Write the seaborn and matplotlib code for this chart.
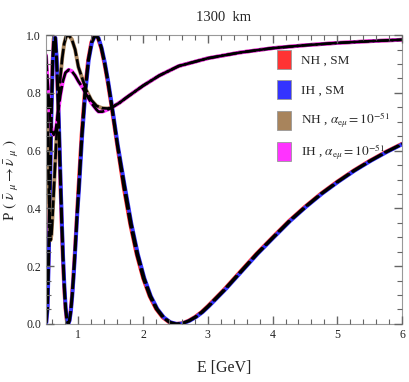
import matplotlib
matplotlib.use("Agg")
import matplotlib.pyplot as plt
import matplotlib.patches as mpatches
import seaborn as sns
from matplotlib.ticker import MultipleLocator, FormatStrFormatter

# survival probability, standard case
e_sm = [0.50, 0.52, 0.54, 0.56, 0.58, 0.60, 0.62, 0.64, 0.66, 0.68, 0.70, 0.72,
        0.74, 0.76, 0.78, 0.80, 0.82, 0.84, 0.86, 0.88, 0.90, 0.92, 0.94, 0.96,
        0.98, 1.00, 1.05, 1.10, 1.15, 1.20, 1.25, 1.30, 1.35, 1.40, 1.45, 1.50,
        1.60, 1.70, 1.80, 1.90, 2.00, 2.10, 2.20, 2.30, 2.40, 2.50, 2.60, 2.70,
        2.80, 2.90, 3.00, 3.25, 3.50, 3.75, 4.00, 4.25, 4.50, 4.75, 5.00, 5.25,
        5.50, 5.75, 6.00]
p_nh_sm = [0.004, 0.056, 0.248, 0.497, 0.731, 0.903, 0.989, 0.991, 0.922, 0.803,
           0.657, 0.502, 0.357, 0.229, 0.128, 0.055, 0.014, 0.0, 0.012, 0.045,
           0.094, 0.158, 0.229, 0.307, 0.387, 0.467, 0.656, 0.805, 0.914, 0.975,
           0.999, 0.991, 0.956, 0.904, 0.841, 0.770, 0.618, 0.473, 0.346, 0.241,
           0.158, 0.096, 0.052, 0.023, 0.006, 0.000, 0.002, 0.011, 0.024, 0.041,
           0.062, 0.119, 0.181, 0.243, 0.300, 0.356, 0.406, 0.452, 0.493, 0.531,
           0.565, 0.596, 0.624]
# IH sits a hair to the right of NH
e_ih = [0.505, 0.525, 0.545, 0.565, 0.585, 0.605, 0.625, 0.645, 0.665, 0.685,
        0.705, 0.725, 0.745, 0.765, 0.785, 0.805, 0.825, 0.845, 0.865, 0.885,
        0.905, 0.925, 0.945, 0.965, 0.985, 1.01, 1.06, 1.11, 1.16, 1.21, 1.26,
        1.31, 1.36, 1.41, 1.46, 1.51, 1.61, 1.72, 1.82, 1.92, 2.02, 2.12, 2.22,
        2.32, 2.42, 2.52, 2.62, 2.72, 2.82, 2.92, 3.02, 3.27, 3.52, 3.77, 4.02,
        4.27, 4.52, 4.77, 5.02, 5.27, 5.52, 5.77, 6.02]
p_ih_sm = p_nh_sm

# with alpha_emu = 1e-51
e_nh_a = [0.50, 0.52, 0.54, 0.555, 0.57, 0.585, 0.60, 0.62, 0.64, 0.66, 0.68,
          0.70, 0.72, 0.75, 0.78, 0.81, 0.85, 0.90, 0.95, 1.00, 1.06, 1.12,
          1.20, 1.28, 1.37, 1.45, 1.50, 1.63, 1.75, 2.00, 2.25, 2.55, 3.00,
          3.50, 4.00, 4.50, 5.00, 5.50, 6.00]
p_nh_a = [0.93, 0.74, 0.50, 0.35, 0.29, 0.31, 0.37, 0.46, 0.55, 0.64, 0.72,
          0.79, 0.85, 0.92, 0.97, 0.995, 1.0, 0.985, 0.95, 0.89, 0.85, 0.81,
          0.775, 0.755, 0.747, 0.746, 0.748, 0.765, 0.785, 0.825, 0.86, 0.893,
          0.92, 0.94, 0.955, 0.965, 0.973, 0.979, 0.984]
e_ih_a = [0.50, 0.53, 0.56, 0.59, 0.62, 0.65, 0.68, 0.72, 0.76, 0.80, 0.85,
          0.90, 0.95, 1.00, 1.06, 1.12, 1.20, 1.28, 1.31, 1.37, 1.45, 1.50,
          1.63, 1.75, 2.00, 2.25, 2.55, 3.00, 3.50, 4.00, 4.50, 5.00, 5.50,
          6.00]
p_ih_a = [0.93, 0.82, 0.72, 0.67, 0.655, 0.67, 0.72, 0.79, 0.84, 0.87, 0.88,
          0.875, 0.86, 0.84, 0.82, 0.795, 0.765, 0.742, 0.735, 0.735, 0.742,
          0.747, 0.765, 0.785, 0.825, 0.86, 0.893, 0.92, 0.94, 0.955, 0.965,
          0.973, 0.979, 0.984]

labels = ["NH , SM", "IH , SM",
          r"NH , $\alpha_{\mathrm{e}\mu}=10^{-51}$",
          r"IH , $\alpha_{\mathrm{e}\mu}=10^{-51}$"]
colors = ["#ff3333", "#3333ff", "#a8845c", "#ff33ff"]

sns.set_style("ticks")
plt.rcParams.update({
    "font.family": ["Liberation Serif", "DejaVu Serif"],
    "mathtext.fontset": "stix",
    "xtick.direction": "in", "ytick.direction": "in",
    "xtick.top": True, "ytick.right": True,
    "xtick.bottom": True, "ytick.left": True,
    "xtick.color": "#666666", "ytick.color": "#666666",
    "xtick.labelcolor": "#222222", "ytick.labelcolor": "#222222",
    "xtick.labelsize": 8.5, "ytick.labelsize": 8.5,
    "xtick.major.size": 6, "ytick.major.size": 6,
    "xtick.minor.size": 3.5, "ytick.minor.size": 3.5,
    "xtick.major.width": 1.0, "ytick.major.width": 1.0,
    "xtick.minor.width": 0.8, "ytick.minor.width": 0.8,
    "xtick.minor.visible": True, "ytick.minor.visible": True,
    "axes.axisbelow": False,
})

fig = plt.figure(figsize=(4.09, 3.82), dpi=100)
ax = fig.add_axes([0.1125, 0.152, 0.8705, 0.756])

series = [(e_sm, p_nh_sm), (e_ih, p_ih_sm), (e_nh_a, p_nh_a), (e_ih_a, p_ih_a)]
for (e, p), c in zip(series, colors):
    sns.lineplot(x=e, y=p, ax=ax, color=c, linewidth=2.8, sort=False)
for e, p in series:
    sns.lineplot(x=e, y=p, ax=ax, color="black", linewidth=1.9,
                 sort=False).lines[-1].set_dashes([6, 1.2])

ax.set_xlim(0.5, 6)
ax.set_ylim(0, 1)
ax.xaxis.set_major_locator(MultipleLocator(1))
ax.xaxis.set_minor_locator(MultipleLocator(0.2))
ax.yaxis.set_major_locator(MultipleLocator(0.2))
ax.yaxis.set_minor_locator(MultipleLocator(0.05))
ax.yaxis.set_major_formatter(FormatStrFormatter("%.1f"))
ax.tick_params(which="both", direction="in", top=True, right=True)
for s in ax.spines.values():
    s.set_color("#999999")
    s.set_linewidth(0.8)

ax.set_title("1300  km", fontsize=10.5, pad=10)
ax.set_xlabel("E [GeV]", fontsize=11.5, labelpad=14)
ax.set_ylabel(r"P $(\ \bar{\nu}_{\ \mu} \rightarrow \bar{\nu}_{\ \mu}\ )$",
              fontsize=11, labelpad=4)

handles = [mpatches.Patch(facecolor=c, edgecolor="#999999", linewidth=0.6)
           for c in colors]
ax.legend(handles, labels, loc="upper right", bbox_to_anchor=(1.0, 0.99),
          frameon=False, fontsize=9.5, handlelength=1.0, handleheight=1.8,
          labelspacing=0.9, handletextpad=0.8)

fig.savefig("out.png", dpi=100)
